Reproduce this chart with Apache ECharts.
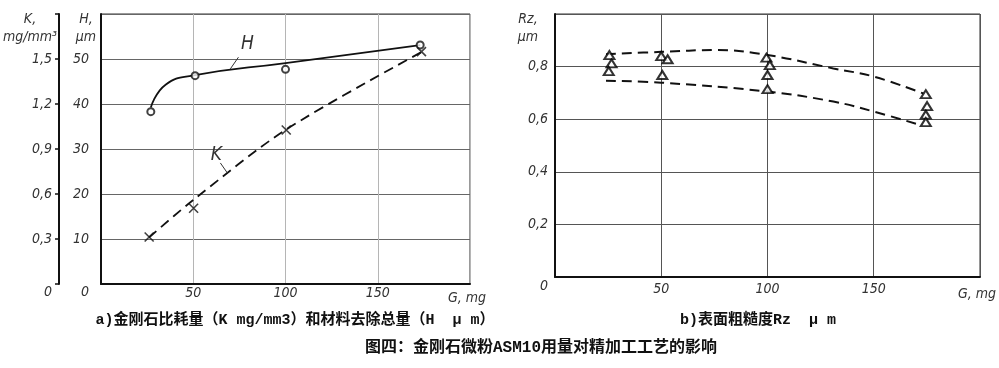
<!DOCTYPE html>
<html><head><meta charset="utf-8">
<script src="https://cdn.jsdelivr.net/npm/echarts@6/dist/echarts.min.js"></script>
<style>html,body{margin:0;padding:0;background:#fff}#c{width:999px;height:368px}</style>
</head><body><div id="c"></div>
<script>
// ---- data ----
const xTicks = [50, 100, 150];                 // G, mg
const hTicks = [0, 10, 20, 30, 40, 50];        // H, µm
const kTicks = ['0', '0,3', '0,6', '0,9', '1,2', '1,5']; // K, mg/mm3
const rzTicks = ['0', '0,2', '0,4', '0,6', '0,8'];       // Rz, µm

const hPoints = [[27, 38.3], [51, 46.3], [100, 47.7], [173, 53.1]];
const hCurve = [[27, 39.2], [35, 44.3], [51, 46.4], [100, 49.1], [173, 53.1]];
const kPoints = [[26.1, 0.313], [50.2, 0.505], [100.4, 1.027], [173.7, 1.549]];
const kCurve = [[26, 0.31], [50, 0.56], [100, 1.027], [174, 1.548]];

const rzPoints = [
  [25.6, 0.844], [26.6, 0.812], [25.3, 0.783],
  [50.0, 0.840], [53.0, 0.828], [50.5, 0.768],
  [99.5, 0.834], [101.1, 0.806], [100.0, 0.768], [100.0, 0.714],
  [174.5, 0.695], [175.1, 0.650], [174.5, 0.617], [174.5, 0.589]
];
const rzUpper = [[24, 0.847], [50, 0.856], [76, 0.863], [100, 0.844], [131, 0.793], [150, 0.762], [173.3, 0.698]];
const rzLower = [[24, 0.746], [50, 0.739], [100, 0.705], [131, 0.667], [150, 0.629], [171.8, 0.578]];

const hLeader = [[79.3, 53.3], [74.5, 50.4], [70.1, 47.8]]; // label pos, leader start, leader end
const kLeader = [[62.5, 0.86], [64.7, 0.807], [68.5, 0.74]];

const captionA = 'a)金刚石比耗量（K mg/mm3）和材料去除总量（H  μ m）';
const captionB = 'b)表面粗糙度Rz  μ m';
const figTitle = '图四：金刚石微粉ASM10用量对精加工工艺的影响';

// ---- styling ----
const AF = "'Liberation Sans Narrow', 'DejaVu Sans Condensed', sans-serif";
const axText = {fontFamily: AF, fontStyle: 'italic', fontSize: 14, color: '#333'};
const CF = "'Liberation Mono', 'Noto Sans CJK SC', monospace";

function numLabel(list, step, zeroPad) {
  return {
    ...axText,
    formatter: function (v) {
      const i = Math.round(v / step);
      if (Math.abs(v - i * step) > 1e-6 || i >= list.length) return '';
      if (i === 0) return '{z|' + list[0] + '}';
      return String(list[i]);
    },
    rich: {z: {...axText, padding: [zeroPad, 0, 0, 0]}}
  };
}

const chart = echarts.init(document.getElementById('c'), null, {renderer: 'canvas'});
const option = {
  animation: false,
  backgroundColor: '#fff',
  grid: [
    {left: 101, top: 14, width: 369, bottom: 84, show: true, borderColor: '#333', borderWidth: 1},
    {left: 555, top: 14, width: 425, bottom: 91, show: true, borderColor: '#333', borderWidth: 1}
  ],
  xAxis: [
    {
      gridIndex: 0, type: 'value', min: 0, max: 200, interval: 50,
      axisLine: {lineStyle: {color: '#111', width: 2}}, axisTick: {show: false},
      axisLabel: {...axText, margin: 2, formatter: v => xTicks.indexOf(v) >= 0 ? String(v) : ''},
      splitLine: {show: true, lineStyle: {color: '#b5b5b5', width: 1}},
      name: 'G, mg', nameLocation: 'end', nameGap: -3,
      nameTextStyle: {...axText, align: 'center', verticalAlign: 'top', padding: [7, 0, 0, 0]}
    },
    {
      gridIndex: 1, type: 'value', min: 0, max: 200, interval: 50,
      axisLine: {lineStyle: {color: '#111', width: 2}}, axisTick: {show: false},
      axisLabel: {...axText, margin: 5, formatter: v => xTicks.indexOf(v) >= 0 ? String(v) : ''},
      splitLine: {show: true, lineStyle: {color: '#555', width: 1}},
      name: 'G, mg', nameLocation: 'end', nameGap: -3,
      nameTextStyle: {...axText, align: 'center', verticalAlign: 'top', padding: [10, 0, 0, 0]}
    }
  ],
  yAxis: [
    {
      gridIndex: 0, type: 'value', min: 0, max: 60, interval: 10, position: 'left',
      axisLine: {show: true, lineStyle: {color: '#111', width: 2}}, axisTick: {show: false},
      axisLabel: {...numLabel(hTicks, 10, 16), margin: 12},
      splitLine: {show: true, lineStyle: {color: '#666', width: 1}},
      name: 'H,\nμm', nameLocation: 'end', nameGap: 4,
      nameTextStyle: {...axText, align: 'center', verticalAlign: 'top', lineHeight: 18, padding: [0, 30, 0, 0]}
    },
    {
      gridIndex: 0, type: 'value', min: 0, max: 1.8, interval: 0.3, position: 'left', offset: 42,
      axisLine: {show: true, lineStyle: {color: '#111', width: 2}},
      axisTick: {show: true, length: 4, lineStyle: {color: '#111', width: 1.5}},
      axisLabel: {...numLabel(kTicks, 0.3, 16), margin: 7},
      splitLine: {show: false},
      name: 'K,\nmg/mm³', nameLocation: 'end', nameGap: 4,
      nameTextStyle: {...axText, align: 'center', verticalAlign: 'top', lineHeight: 18, padding: [0, 58, 0, 0]}
    },
    {
      gridIndex: 1, type: 'value', min: 0, max: 1, interval: 0.2, position: 'left',
      axisLine: {show: true, lineStyle: {color: '#111', width: 2}}, axisTick: {show: false},
      axisLabel: {...numLabel(rzTicks, 0.2, 18), margin: 7},
      splitLine: {show: true, lineStyle: {color: '#555', width: 1}},
      name: 'Rz,\nμm', nameLocation: 'end', nameGap: 4,
      nameTextStyle: {...axText, align: 'center', verticalAlign: 'top', lineHeight: 18, padding: [0, 54, 0, 0]}
    }
  ],
  series: [
    {
      type: 'line', xAxisIndex: 0, yAxisIndex: 0, data: hCurve, smooth: 0.5,
      showSymbol: false, symbol: 'none', lineStyle: {color: '#111', width: 1.8}, z: 3,
      markLine: {
        silent: true, symbol: 'none', label: {show: false},
        lineStyle: {color: '#333', width: 1, type: 'solid'},
        data: [[{coord: hLeader[1]}, {coord: hLeader[2]}]]
      },
      markPoint: {
        silent: true, symbol: 'circle', symbolSize: 1, itemStyle: {color: 'transparent'},
        label: {show: true, position: 'inside', formatter: 'H', fontFamily: AF, fontStyle: 'italic', fontSize: 19, color: '#333'},
        data: [{coord: hLeader[0]}]
      }
    },
    {
      type: 'scatter', xAxisIndex: 0, yAxisIndex: 0, data: hPoints, symbol: 'emptyCircle', symbolSize: 7,
      itemStyle: {color: '#111', borderColor: '#111', borderWidth: 1.5}, z: 4
    },
    {
      type: 'line', xAxisIndex: 0, yAxisIndex: 1, data: kCurve, smooth: 0.3,
      showSymbol: false, symbol: 'none', lineStyle: {color: '#111', width: 1.8, type: [10, 6]}, z: 3,
      markLine: {
        silent: true, symbol: 'none', label: {show: false},
        lineStyle: {color: '#333', width: 1, type: 'solid'},
        data: [[{coord: kLeader[1]}, {coord: kLeader[2]}]]
      },
      markPoint: {
        silent: true, symbol: 'circle', symbolSize: 1, itemStyle: {color: 'transparent'},
        label: {show: true, position: 'inside', formatter: 'K', fontFamily: AF, fontStyle: 'italic', fontSize: 19, color: '#333'},
        data: [{coord: kLeader[0]}]
      }
    },
    {
      type: 'scatter', xAxisIndex: 0, yAxisIndex: 1, data: kPoints,
      symbol: 'path://M0,0L10,10M10,0L0,10', symbolSize: 9,
      itemStyle: {color: 'transparent', borderColor: '#111', borderWidth: 1.6}, z: 4
    },
    {
      type: 'line', xAxisIndex: 1, yAxisIndex: 2, data: rzUpper, smooth: 0.4,
      showSymbol: false, symbol: 'none', lineStyle: {color: '#111', width: 2, type: [10, 6]}, z: 3
    },
    {
      type: 'line', xAxisIndex: 1, yAxisIndex: 2, data: rzLower, smooth: 0.4,
      showSymbol: false, symbol: 'none', lineStyle: {color: '#111', width: 2, type: [10, 6]}, z: 3
    },
    {
      type: 'scatter', xAxisIndex: 1, yAxisIndex: 2, data: rzPoints, symbol: 'emptyTriangle', symbolSize: [10, 8],
      itemStyle: {color: '#000', borderColor: '#000', borderWidth: 2}, z: 4
    }
  ],
  graphic: [
    {type: 'text', x: 295, y: 320, style: {text: captionA, font: 'bold 15px ' + CF, fill: '#111', align: 'center', verticalAlign: 'middle'}},
    {type: 'text', x: 758, y: 320, style: {text: captionB, font: 'bold 15px ' + CF, fill: '#111', align: 'center', verticalAlign: 'middle'}},
    {type: 'text', x: 541, y: 348, style: {text: figTitle, font: 'bold 16px ' + CF, fill: '#111', align: 'center', verticalAlign: 'middle'}}
  ]
};
chart.setOption(option);
</script></body></html>
